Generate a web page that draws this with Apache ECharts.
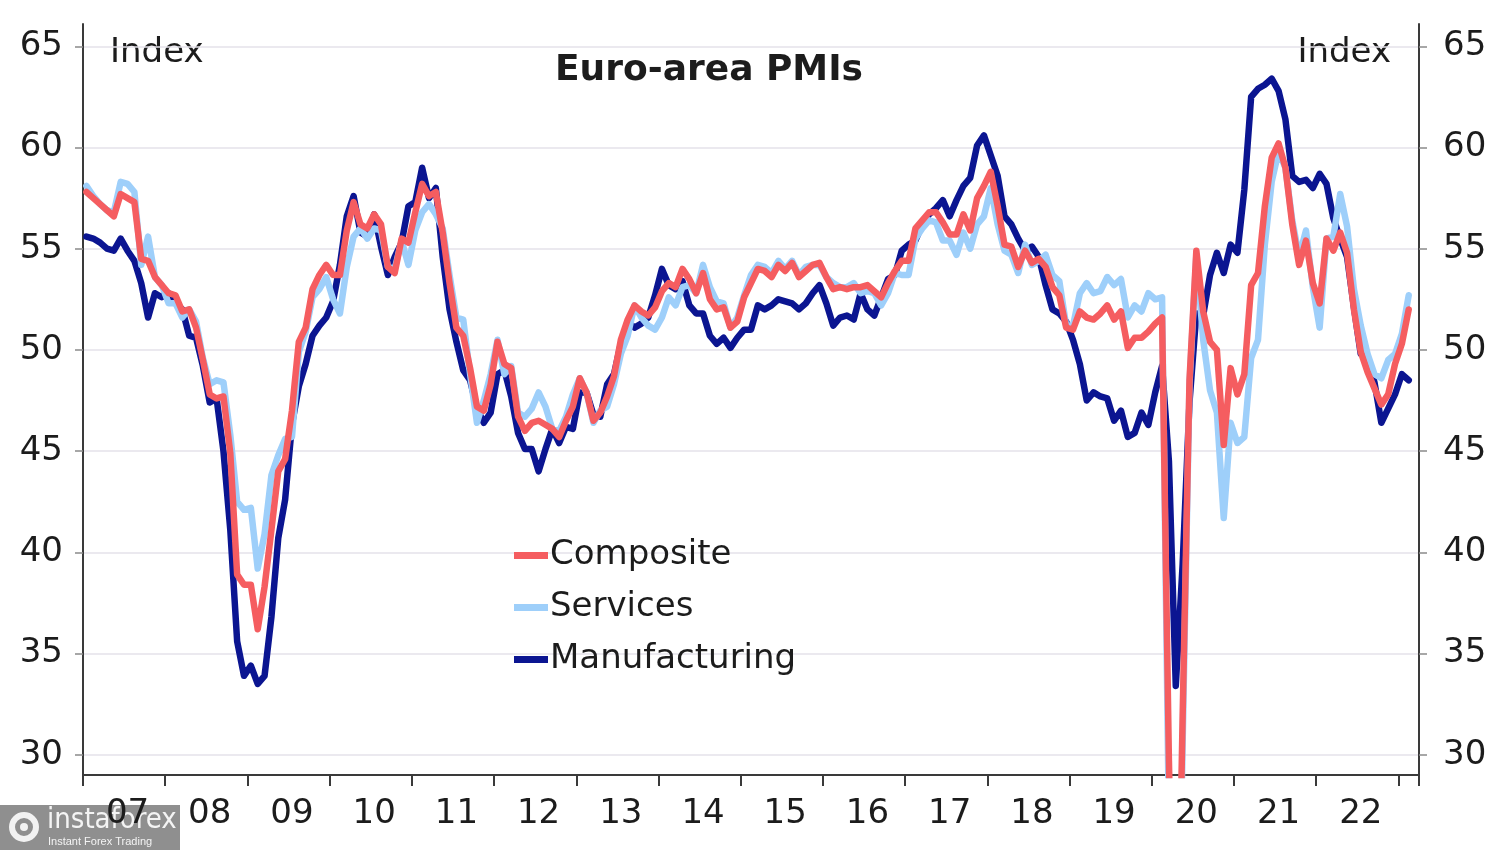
<!DOCTYPE html>
<html>
<head>
<meta charset="utf-8">
<script src="https://cdn.jsdelivr.net/npm/echarts@6/dist/echarts.min.js"></script>
<style>
html,body{margin:0;padding:0;background:#fff;}
#chart{width:1500px;height:850px;}
</style>
</head>
<body>
<div id="chart"></div>
<script>
// Monthly data, Jan 2007 .. Feb 2023
var startYear = 2007;
var monthCount = 195; // Jan 2007 .. Mar 2023 (axis span)
var yTicks = [30, 35, 40, 45, 50, 55, 60, 65];

var manufacturing = [
 55.6,55.5,55.3,55.0,54.9,55.5,54.9,54.4,53.3,51.6,52.8,52.6,
 52.8,52.3,52.0,50.7,50.6,49.2,47.4,47.6,45.0,41.1,35.6,33.9,
 34.4,33.5,33.9,36.8,40.7,42.6,46.3,48.2,49.3,50.7,51.2,51.6,
 52.4,54.2,56.6,57.6,55.8,55.6,56.7,55.1,53.7,54.6,55.3,57.1,
 57.3,59.0,57.5,58.0,54.6,52.0,50.4,49.0,48.5,47.1,46.4,46.9,
 48.8,49.0,47.7,45.9,45.1,45.1,44.0,45.1,46.1,45.4,46.2,46.1,
 47.9,47.9,46.8,46.7,48.3,48.8,50.3,51.4,51.1,51.3,51.6,52.7,
 54.0,53.2,53.0,53.4,52.2,51.8,51.8,50.7,50.3,50.6,50.1,50.6,
 51.0,51.0,52.2,52.0,52.2,52.5,52.4,52.3,52.0,52.3,52.8,53.2,
 52.3,51.2,51.6,51.7,51.5,52.8,52.0,51.7,52.6,53.5,53.7,54.9,
 55.2,55.4,56.2,56.7,57.0,57.4,56.6,57.4,58.1,58.5,60.1,60.6,
 59.6,58.6,56.6,56.2,55.5,54.9,55.1,54.6,53.2,52.0,51.8,51.4,
 50.5,49.3,47.5,47.9,47.7,47.6,46.5,47.0,45.7,45.9,46.9,46.3,
 47.9,49.2,44.5,33.4,39.4,47.4,51.8,51.7,53.7,54.8,53.8,55.2,
 54.8,57.9,62.5,62.9,63.1,63.4,62.8,61.4,58.6,58.3,58.4,58.0,
 58.7,58.2,56.5,55.5,54.6,52.1,49.8,49.6,48.4,46.4,47.1,47.8,
 48.8,48.5
];

var services = [
 58.1,57.6,57.2,56.9,56.8,58.3,58.2,57.8,54.2,55.6,53.6,53.2,
 52.3,52.3,51.6,52.0,51.4,49.6,48.3,48.5,48.4,45.8,42.5,42.1,
 42.2,39.2,40.9,43.8,44.8,45.6,45.7,49.9,50.9,52.6,53.0,53.6,
 52.5,51.8,54.1,55.6,56.0,55.5,56.0,55.9,54.1,54.0,55.4,54.2,
 55.9,56.8,57.2,56.7,56.0,53.7,51.6,51.5,48.8,46.4,47.5,48.8,
 50.5,48.8,49.2,46.9,46.7,47.1,47.9,47.2,46.1,46.0,46.7,47.8,
 48.6,47.9,46.4,47.0,47.2,48.3,49.8,50.7,52.2,51.6,51.2,51.0,
 51.6,52.6,52.2,53.1,53.2,52.8,54.2,53.1,52.4,52.3,51.1,51.6,
 52.7,53.7,54.2,54.1,53.8,54.4,54.0,54.4,53.7,54.1,54.2,54.2,
 53.6,53.3,53.1,53.1,53.3,52.8,52.9,52.8,52.2,52.8,53.8,53.7,
 53.7,55.5,56.0,56.4,56.3,55.4,55.4,54.7,55.8,55.0,56.2,56.6,
 58.0,56.2,54.9,54.7,53.8,55.2,54.2,54.4,54.7,53.7,53.4,51.2,
 51.2,52.8,53.3,52.8,52.9,53.6,53.2,53.5,51.6,52.2,51.9,52.8,
 52.5,52.6,26.4,12.0,30.5,48.3,54.7,50.5,48.0,46.9,41.7,46.4,
 45.4,45.7,49.6,50.5,55.2,58.3,59.8,59.0,56.4,54.6,55.9,53.1,
 51.1,55.5,55.6,57.7,56.1,53.0,51.2,49.8,48.8,48.6,49.5,49.8,
 50.8,52.7
];

var composite = [
 57.8,57.5,57.2,56.9,56.6,57.7,57.5,57.3,54.5,54.4,53.6,53.2,
 52.8,52.7,51.9,52.0,51.1,49.5,47.8,47.6,47.7,44.9,38.9,38.4,
 38.4,36.2,38.3,41.1,44.0,44.6,47.0,50.4,51.1,53.0,53.7,54.2,
 53.7,53.7,55.9,57.3,56.2,56.0,56.7,56.2,54.1,53.8,55.5,55.3,
 56.8,58.2,57.6,57.8,55.8,53.3,51.1,50.7,49.1,47.2,47.0,48.3,
 50.4,49.3,49.1,46.7,46.0,46.4,46.5,46.3,46.1,45.7,46.5,47.2,
 48.6,47.9,46.5,46.9,47.7,48.7,50.5,51.5,52.2,51.9,51.7,52.1,
 52.9,53.3,53.1,54.0,53.5,52.8,53.8,52.5,52.0,52.1,51.1,51.4,
 52.6,53.3,54.0,53.9,53.6,54.2,53.9,54.3,53.6,53.9,54.2,54.3,
 53.6,53.0,53.1,53.0,53.1,53.1,53.2,52.9,52.6,53.3,53.9,54.4,
 54.4,56.0,56.4,56.8,56.8,56.3,55.7,55.7,56.7,55.9,57.5,58.1,
 58.8,57.1,55.2,55.1,54.1,54.9,54.3,54.5,54.1,53.1,52.7,51.1,
 51.0,51.9,51.6,51.5,51.8,52.2,51.5,51.9,50.1,50.6,50.6,50.9,
 51.3,51.6,29.7,13.6,31.9,48.5,54.9,51.9,50.4,50.0,45.3,49.1,
 47.8,48.8,53.2,53.8,57.1,59.5,60.2,59.0,56.2,54.2,55.4,53.3,
 52.3,55.5,54.9,55.8,54.8,52.0,49.9,48.9,48.1,47.3,47.8,49.3,
 50.3,52.0
];

var months = [];
for (var k = 0; k < monthCount; k++) {
  var yr = startYear + Math.floor(k / 12);
  var mo = (k % 12) + 1;
  months.push(yr + '-' + (mo < 10 ? '0' + mo : mo));
}

var FONT = '"DejaVu Sans", "Noto Sans", sans-serif';
var TXT = '#1c1c1c';
var AXIS = '#3a3a3a';
var GRID = '#e4e2ea';

function yAxisCfg(pos) {
  return {
    type: 'value',
    position: pos,
    min: 29,
    max: 66.1,
    axisLine: { show: true, lineStyle: { color: AXIS, width: 2 } },
    axisTick: { show: true, length: 8, lineStyle: { color: '#8a8a8a', width: 1.5 }, customValues: yTicks },
    axisLabel: { color: TXT, fontSize: 34, fontFamily: FONT, margin: pos === 'left' ? 20 : 24, customValues: yTicks },
    splitLine: { show: pos === 'left', lineStyle: { color: GRID, width: 1.5 } }
  };
}

var chart = echarts.init(document.getElementById('chart'));
chart.setOption({
  backgroundColor: '#ffffff',
  animation: false,
  grid: { left: 83, right: 81, top: 24, bottom: 75, containLabel: false },
  xAxis: {
    type: 'category',
    data: months,
    boundaryGap: true,
    axisLine: { show: true, lineStyle: { color: AXIS, width: 2 } },
    axisTick: { show: true, length: 11, lineStyle: { color: AXIS, width: 2 },
      interval: function (idx) { return idx % 12 === 0; } },
    axisLabel: { color: TXT, fontSize: 34, fontFamily: FONT, margin: 22,
      interval: function (idx) { return idx % 12 === 6; },
      formatter: function (v) { return v.slice(2, 4); } },
    splitLine: { show: false }
  },
  yAxis: [yAxisCfg('left'), yAxisCfg('right')],
  legend: {
    orient: 'vertical',
    left: 509,
    top: 533,
    itemWidth: 34,
    itemHeight: 7,
    itemGap: 17,
    icon: 'rect',
    data: ['Composite', 'Services', 'Manufacturing'],
    textStyle: { color: TXT, fontSize: 34, fontFamily: FONT, lineHeight: 35, padding: [0, 0, 0, -3] }
  },
  series: [
    { name: 'Manufacturing', type: 'line', data: manufacturing, yAxisIndex: 0,
      symbol: 'none', color: '#0b1591',
      lineStyle: { width: 6.5, color: '#0b1591', join: 'round', cap: 'round' } },
    { name: 'Services', type: 'line', data: services, yAxisIndex: 0,
      symbol: 'none', color: '#9ecffa',
      lineStyle: { width: 6.5, color: '#9ecffa', join: 'round', cap: 'round' } },
    { name: 'Composite', type: 'line', data: composite, yAxisIndex: 0,
      symbol: 'none', color: '#f55d60',
      lineStyle: { width: 6.5, color: '#f55d60', join: 'round', cap: 'round' } }
  ],
  graphic: [
    { type: 'text', x: 709, y: 71, style: { text: 'Euro-area PMIs', fill: TXT, fontSize: 36, fontWeight: 'bold', fontFamily: FONT, textAlign: 'center', textVerticalAlign: 'middle' } },
    { type: 'text', x: 110, y: 53, style: { text: 'Index', fill: TXT, fontSize: 34, fontFamily: FONT, textAlign: 'left', textVerticalAlign: 'middle' } },
    { type: 'text', x: 1391, y: 53, style: { text: 'Index', fill: TXT, fontSize: 34, fontFamily: FONT, textAlign: 'right', textVerticalAlign: 'middle' } },
    { type: 'group', left: 0, top: 805, children: [
      { type: 'rect', shape: { x: 0, y: 0, width: 180, height: 45 }, style: { fill: 'rgba(128,128,128,0.88)' } },
      { type: 'circle', shape: { cx: 24, cy: 22, r: 12 }, style: { fill: 'none', stroke: '#f2f2f2', lineWidth: 6 } },
      { type: 'circle', shape: { cx: 24, cy: 22, r: 4 }, style: { fill: '#f2f2f2' } },
      { type: 'text', x: 47, y: 1, style: { text: 'instaforex', fill: '#f4f4f4', fontSize: 29, fontFamily: '"DejaVu Sans Condensed", "Liberation Sans", sans-serif' } },
      { type: 'text', x: 48, y: 31, style: { text: 'Instant Forex Trading', fill: '#f4f4f4', fontSize: 11, fontFamily: '"Liberation Sans", sans-serif' } }
    ] }
  ]
});
</script>
</body>
</html>
